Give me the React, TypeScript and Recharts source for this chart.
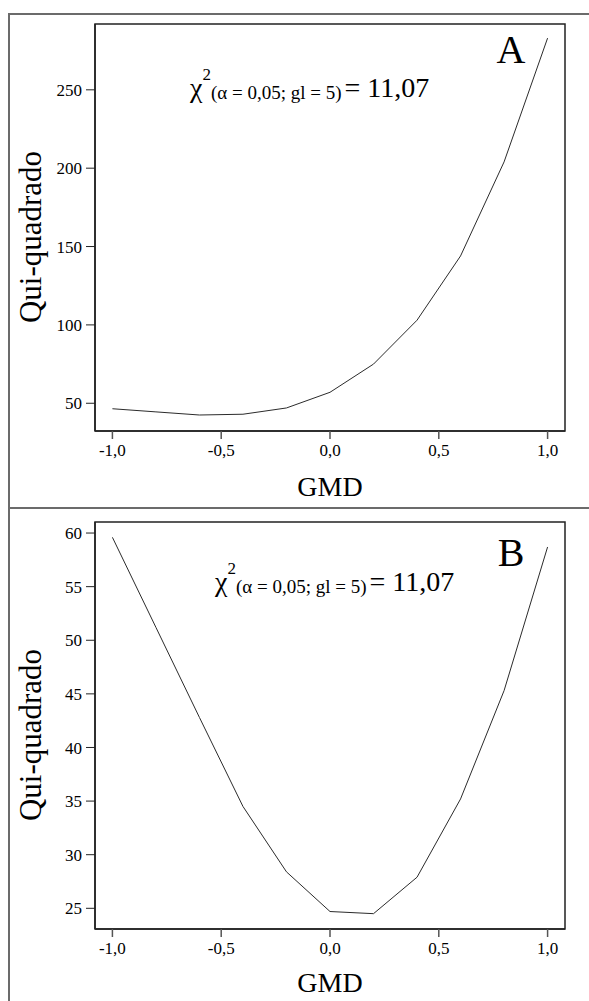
import { LineChart, Line, XAxis, YAxis, ReferenceArea } from "recharts";

// GMD values (x) and chi-square statistics for both panels
const gmd = [-1, -0.8, -0.6, -0.4, -0.2, 0, 0.2, 0.4, 0.6, 0.8, 1];
const chiA = [46.5, 44.5, 42.5, 43, 47, 57, 75, 103, 144, 204, 283];
const chiB = [59.6, 51.2, 42.8, 34.5, 28.4, 24.7, 24.5, 27.9, 35.2, 45.3, 58.7];

const xTicks = [-1, -0.5, 0, 0.5, 1];
const yTicksA = [50, 100, 150, 200, 250];
const yTicksB = [25, 30, 35, 40, 45, 50, 55, 60];

const xDomain: [number, number] = [-1.08, 1.08];
const yDomainA: [number, number] = [32.3, 292];
const yDomainB: [number, number] = [23.07, 61.03];

const dataA = gmd.map((g, i) => ({ gmd: g, chi: chiA[i] }));
const dataB = gmd.map((g, i) => ({ gmd: g, chi: chiB[i] }));

const FONT = "Liberation Serif";
const fmt = (v: number) => v.toFixed(1).replace(".", ",");

interface PanelProps {
  data: { gmd: number; chi: number }[];
  yDomain: [number, number];
  yTicks: number[];
  top: number;
  height: number;
  marginTop: number;
  xAxisHeight: number;
  labelOffset: number;
}

function Panel({ data, yDomain, yTicks, top, height, marginTop, xAxisHeight, labelOffset }: PanelProps) {
  return (
    <div style={{ position: "absolute", left: 0, top }}>
      <LineChart
        width={589}
        height={height}
        data={data}
        margin={{ top: marginTop, right: 24, left: 0, bottom: 0 }}
      >
        <XAxis
          dataKey="gmd"
          type="number"
          domain={xDomain}
          ticks={xTicks}
          allowDataOverflow
          tickFormatter={fmt}
          height={xAxisHeight}
          tickSize={8}
          tickMargin={5}
          axisLine={{ stroke: "#222", strokeWidth: 1.5 }}
          tickLine={{ stroke: "#555", strokeWidth: 1.5 }}
          tick={{ fontSize: 17, fill: "#000", fontFamily: FONT }}
          label={{
            value: "GMD",
            position: "insideBottom",
            offset: labelOffset,
            fontSize: 28,
            fill: "#000",
            fontFamily: FONT,
          }}
        />
        <YAxis
          type="number"
          domain={yDomain}
          ticks={yTicks}
          allowDataOverflow
          width={95}
          tickSize={9}
          tickMargin={4}
          axisLine={{ stroke: "#222", strokeWidth: 1.5 }}
          tickLine={{ stroke: "#222", strokeWidth: 1 }}
          tick={{ fontSize: 17, fill: "#000", fontFamily: FONT }}
        />
        <ReferenceArea
          x1={xDomain[0]}
          x2={xDomain[1]}
          y1={yDomain[0]}
          y2={yDomain[1]}
          fill="none"
          stroke="#222"
          strokeWidth={1.5}
          ifOverflow="visible"
        />
        <Line
          type="linear"
          dataKey="chi"
          stroke="#2b2b2b"
          strokeWidth={1}
          dot={false}
          isAnimationActive={false}
        />
      </LineChart>
    </div>
  );
}

function ChiNote({ x, y }: { x: number; y: number }) {
  return (
    <text x={x} y={y} fill="#000" style={{ fontFamily: FONT }}>
      <tspan fontSize={28}>χ</tspan>
      <tspan fontSize={17} dy={-17}>2</tspan>
      <tspan fontSize={19} dy={19}>(α = 0,05; gl = 5)</tspan>
      <tspan fontSize={28} dy={-2} dx={3}>= 11,07</tspan>
    </text>
  );
}

export default function App() {
  return (
    <div
      style={{
        position: "absolute",
        left: 0,
        top: 0,
        width: 589,
        height: 1001,
        overflow: "hidden",
        background: "#fff",
        fontFamily: FONT,
      }}
    >
      {/* outer frame and separator */}
      <div
        style={{
          position: "absolute",
          left: 8,
          top: 13,
          width: 700,
          height: 1100,
          borderLeft: "2px solid #6b6b6b",
          borderTop: "2px solid #6b6b6b",
        }}
      />
      <div
        style={{
          position: "absolute",
          left: 8,
          top: 507,
          width: 700,
          borderTop: "2px solid #6b6b6b",
        }}
      />

      <Panel
        data={dataA}
        yDomain={yDomainA}
        yTicks={yTicksA}
        top={0}
        height={507}
        marginTop={24}
        xAxisHeight={76}
        labelOffset={11}
      />
      <Panel
        data={dataB}
        yDomain={yDomainB}
        yTicks={yTicksB}
        top={508}
        height={493}
        marginTop={14}
        xAxisHeight={72}
        labelOffset={9}
      />

      {/* annotations */}
      <svg
        width={589}
        height={1001}
        style={{ position: "absolute", left: 0, top: 0, pointerEvents: "none" }}
      >
        <text
          transform="translate(41,237) rotate(-90)"
          textAnchor="middle"
          fontFamily={FONT}
          fontSize={31}
          fill="#000"
        >
          Qui-quadrado
        </text>
        <text
          transform="translate(41,735) rotate(-90)"
          textAnchor="middle"
          fontFamily={FONT}
          fontSize={31}
          fill="#000"
        >
          Qui-quadrado
        </text>
        <text x={511} y={63} textAnchor="middle" fontFamily={FONT} fontSize={40} fill="#000">
          A
        </text>
        <text x={511} y={566} textAnchor="middle" fontFamily={FONT} fontSize={40} fill="#000">
          B
        </text>
        <ChiNote x={190} y={97} />
        <ChiNote x={215} y={591} />
      </svg>
    </div>
  );
}
